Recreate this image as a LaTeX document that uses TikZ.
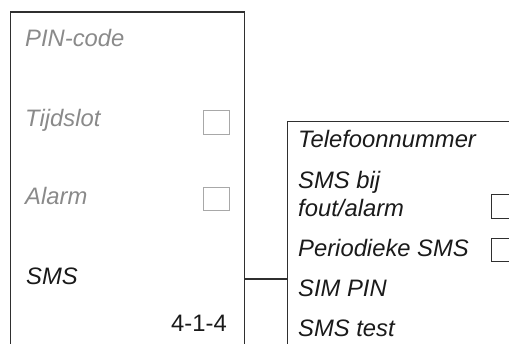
\documentclass[tikz,border=0pt]{standalone}
\usepackage{fontspec}
\setmainfont{Liberation Sans}
\usepackage{tikz}
\usetikzlibrary{positioning, calc}
\definecolor{FrameGray}{HTML}{2F2F2F}
\definecolor{DimText}{HTML}{8A8A8A}
\definecolor{DimBox}{HTML}{A8A8A8}
\definecolor{MenuText}{HTML}{1A1A1A}

\begin{document}
\begin{tikzpicture}[x=1pt, y=1pt,
    item/.style={anchor=base west, inner sep=0pt, font=\fontsize{23.8}{28}\selectfont\itshape},
    dimitem/.style={item, color=DimText},
    menuitem/.style={item, color=MenuText},
    tick/.style={draw=DimBox, line width=1pt},
    ticksub/.style={draw=FrameGray, line width=1pt},
    frame/.style={draw=FrameGray, line width=1.1pt}]
                    \useasboundingbox (0,0) rectangle (509,344);

                    \draw[frame] (10.5,-2) -- (10.5,332) -- (244.5,332) -- (244.5,-2);
                    \draw[frame] (287.5,-2) -- (287.5,222.5) -- (511,222.5);

                    \node[dimitem] (pin) at (25,297) {PIN-code};
                    \node[dimitem] (slot) at (25,217) {Tijdslot};
                    \node[dimitem] (alarm) at (25,139) {Alarm};
                    \node[menuitem] (sms) at (26,59) {SMS};
                    \node[anchor=base east, inner sep=0pt, color=MenuText, font=\fontsize{23.8}{28}\selectfont] (code) at (227,12) {4-1-4};

                    \draw[tick] (203.5,209.5) rectangle (229.5,233.5);
                    \draw[tick] (203.5,133.5) rectangle (229.5,156.5);

                    \node[menuitem] (tel) at (298,196) {Telefoonnummer};
                    \node[menuitem] (fout1) at (298,155) {SMS bij};
                    \node[menuitem] (fout2) at (298,127) {fout/alarm};
                    \node[menuitem] (peri) at (298,87) {Periodieke SMS};
                    \node[menuitem] (simpin) at (298,47) {SIM PIN};
                    \node[menuitem] (smstest) at (298,7) {SMS test};

                    \draw[ticksub] (491.5,125.5) rectangle (515,149.5);
                    \draw[ticksub] (491.5,82.5) rectangle (515,105.5);

                    \coordinate (smsout) at (244.5,65);
                    \coordinate (subin) at (287.5,65);
                    \draw[frame] (smsout) -- (subin);
                \end{tikzpicture}
\end{document}
